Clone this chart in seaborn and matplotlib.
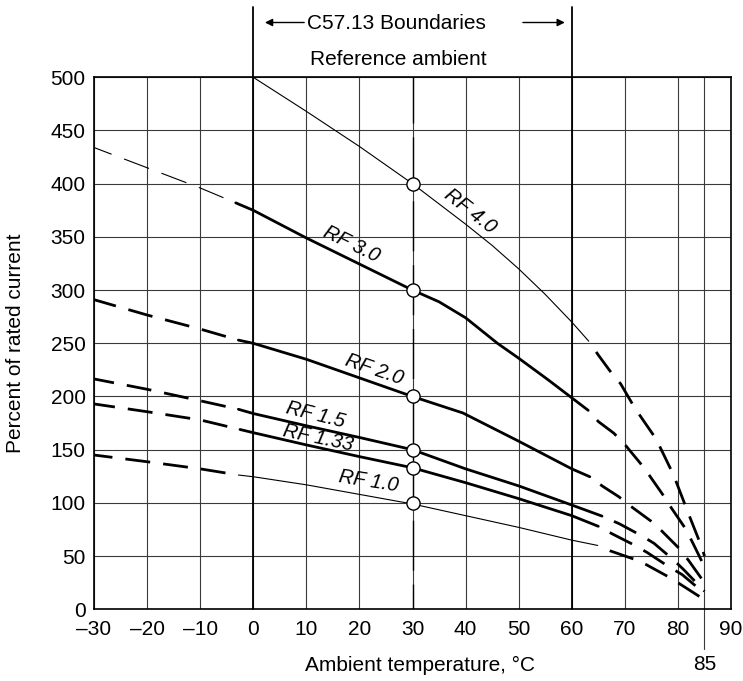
import numpy as np
import pandas as pd
import seaborn as sns
import matplotlib.pyplot as plt

sns.set_style("white")
plt.rcParams['font.family'] = ['Liberation Sans', 'DejaVu Sans']
plt.rcParams['text.color'] = 'black'
plt.rcParams['xtick.color'] = 'black'
plt.rcParams['ytick.color'] = 'black'

# curve data (x = ambient temp, y = percent of rated current)
rf40_x = [0, 10, 20, 30, 40, 45, 50, 55, 60, 63.2]
rf40_y = [500, 468, 435, 400, 362, 342, 320, 296, 270, 252]
rf40_rx = [63.2, 65, 67.5, 69.2, 71.9, 75.9, 79.2, 81.9, 84.6, 85]
rf40_ry = [252, 239, 222, 212, 189, 160, 126, 91, 57, 50]

rf30_x = [-3.3, 0, 10, 20, 30, 35, 40, 46, 50, 55.6, 63.1]
rf30_y = [382, 375, 349, 324.5, 300, 289, 274, 250, 236, 215.5, 187]
rf30_lx = [-3.3, -10, -20, -30]
rf30_ly = [382, 396, 415, 434]
rf30_rx = [63.1, 65, 67.9, 69.9, 72.9, 74.6, 77.4, 78.8, 81.4, 82.8, 85]
rf30_ry = [187, 176.5, 165.6, 155.5, 137.4, 126, 106, 95, 76, 62.4, 40]

rf20_x = [-2.8, 0, 10, 20, 30, 39.5, 50, 60, 63.4]
rf20_y = [253, 250, 235, 217.5, 200, 184.5, 158, 132, 124.6]
rf20_lx = [-2.8, -10, -20, -30]
rf20_ly = [253, 263.4, 276.6, 291]
rf20_rx = [63.4, 65.8, 68.9, 71.1, 74.9, 76.9, 80.2, 82, 85]
rf20_ry = [124.6, 115.7, 105.7, 96.9, 83, 73.9, 57.4, 46, 25]

rf15_x = [-2.8, 0, 10, 20, 30, 40, 50, 60, 65.7]
rf15_y = [188, 184, 172.5, 161.5, 150, 132, 116, 98, 87.6]
rf15_lx = [-2.8, -10, -20, -30]
rf15_ly = [188, 196, 206.8, 216.5]
rf15_rx = [65.7, 69, 73.2, 75.5, 79.2, 81.1, 85]
rf15_ry = [87.6, 80.3, 69, 62, 46.3, 37.2, 17]

rf133_x = [-2.5, 0, 10, 20, 30, 40, 50, 60, 65]
rf133_y = [169, 166, 154.5, 143.5, 133, 119, 104, 88, 78]
rf133_lx = [-2.5, -10, -20, -30]
rf133_ly = [169, 178, 185.7, 193]
rf133_rx = [65, 67.7, 71.8, 74.2, 78.2, 80.8, 85]
rf133_ry = [78, 70.7, 60.3, 53.4, 40.3, 32.6, 15]

rf10_x = [-2.8, 0, 10, 20, 30, 40, 50, 60, 64.9]
rf10_y = [126.2, 124.6, 117, 108, 99, 88, 77, 65, 60]
rf10_lx = [-2.8, -10, -20, -30]
rf10_ly = [126.2, 132, 138.7, 145]
rf10_rx = [64.9, 67.2, 71.7, 74.1, 78.3, 80.5, 85]
rf10_ry = [60, 55, 47.2, 41.8, 30.3, 23.4, 9]

ref_y = [400, 300, 200, 150, 133, 100]

labels = ["RF 4.0", "RF 3.0", "RF 2.0", "RF 1.5", "RF 1.33", "RF 1.0"]
label_x = [40.9, 18.5, 22.7, 11.8, 12.2, 21.8]
label_y = [374, 343, 225, 182.6, 160.7, 120.6]
label_rot = [-38, -26, -19, -14, -12, -9]

xticks = list(range(-30, 91, 10))
yticks = list(range(0, 501, 50))

fig = plt.figure(figsize=(7.43, 6.81), dpi=100)
ax = fig.add_axes([94 / 743, 1 - 609.3 / 681, 637 / 743, 532 / 681])

ax.set_xlim(-30, 90)
ax.set_ylim(0, 500)
ax.set_xticks(xticks)
ax.set_yticks(yticks)
ax.set_xticklabels([str(t).replace('-', '\u2013') for t in xticks], fontsize=15)
ax.set_yticklabels([str(t) for t in yticks], fontsize=15)
ax.tick_params(length=0, pad=6)
ax.tick_params(axis='x', pad=8)
ax.grid(True, color='#3a3a3a', lw=0.8, zorder=0)
for s in ax.spines.values():
    s.set_color('black')
    s.set_linewidth(1.2)

# heavier boundary lines at 0 and 60, running above the plot
for xb in [0, 60]:
    ax.plot([xb, xb], [0, 566], color='black', lw=1.3, clip_on=False, zorder=1)
# 85 line, running below the plot
ax.plot([85, 85], [-37, 500], color='#3a3a3a', lw=0.8, clip_on=False, zorder=1)
ax.text(85, -52, "85", ha='center', va='center', fontsize=15)

# reference ambient dashed line at 30
sns.lineplot(x=[30, 30], y=[504, 0], ax=ax, color='black', lw=1.0, sort=False,
             estimator=None, linestyle=(0, (36, 10)), zorder=2)

thick = dict(color='black', lw=2.0, sort=False, estimator=None, zorder=3)
thin = dict(color='black', lw=0.8, sort=False, estimator=None, zorder=3)
# offsets equal to the dash length so each extension starts with a gap
dash_thick = (9, (9, 4.7))
dash_thin = (24, (24, 12))

# RF 4.0
sns.lineplot(x=rf40_x, y=rf40_y, ax=ax, **thin)
sns.lineplot(x=rf40_rx, y=rf40_ry, ax=ax, linestyle=dash_thick, **thick)
# RF 3.0
sns.lineplot(x=rf30_x, y=rf30_y, ax=ax, **thick)
sns.lineplot(x=rf30_lx, y=rf30_ly, ax=ax, linestyle=dash_thin, **thin)
sns.lineplot(x=rf30_rx, y=rf30_ry, ax=ax, linestyle=dash_thick, **thick)
# RF 2.0, 1.5, 1.33
for sx, sy, lx, ly, rx, ry in [
        (rf20_x, rf20_y, rf20_lx, rf20_ly, rf20_rx, rf20_ry),
        (rf15_x, rf15_y, rf15_lx, rf15_ly, rf15_rx, rf15_ry),
        (rf133_x, rf133_y, rf133_lx, rf133_ly, rf133_rx, rf133_ry)]:
    sns.lineplot(x=sx, y=sy, ax=ax, **thick)
    sns.lineplot(x=lx, y=ly, ax=ax, linestyle=dash_thick, **thick)
    sns.lineplot(x=rx, y=ry, ax=ax, linestyle=dash_thick, **thick)
# RF 1.0
sns.lineplot(x=rf10_x, y=rf10_y, ax=ax, **thin)
sns.lineplot(x=rf10_lx, y=rf10_ly, ax=ax, linestyle=dash_thick, **thick)
sns.lineplot(x=rf10_rx, y=rf10_ry, ax=ax, linestyle=dash_thick, **thick)

sns.scatterplot(x=[30] * len(ref_y), y=ref_y, ax=ax, s=90, color='white',
                edgecolor='black', linewidth=1.0, zorder=5)

for t, lx, ly, r in zip(labels, label_x, label_y, label_rot):
    ax.text(lx, ly, t, rotation=r, fontsize=14.5, fontstyle='italic',
            ha='center', va='center', rotation_mode='anchor', zorder=4)

# header texts above the plot
ax.text(27.0, 551, "C57.13 Boundaries", ha='center', va='center', fontsize=15)
ax.text(27.4, 517, "Reference ambient", ha='center', va='center', fontsize=15)
arrow_kw = dict(arrowstyle='-|>', color='black', lw=1.0, mutation_scale=11,
                shrinkA=0, shrinkB=0)
ax.annotate("", xy=(2.2, 551.5), xytext=(9.6, 551.5), annotation_clip=False,
            arrowprops=arrow_kw)
ax.annotate("", xy=(58.7, 551.5), xytext=(50.8, 551.5), annotation_clip=False,
            arrowprops=arrow_kw)

ax.text(0.512, -0.105, "Ambient temperature, \u00b0C", transform=ax.transAxes,
        ha='center', va='center', fontsize=15)
ax.text(-0.124, 0.5, "Percent of rated current", transform=ax.transAxes,
        ha='center', va='center', rotation=90, fontsize=15)

fig.savefig("out.png", dpi=100)
